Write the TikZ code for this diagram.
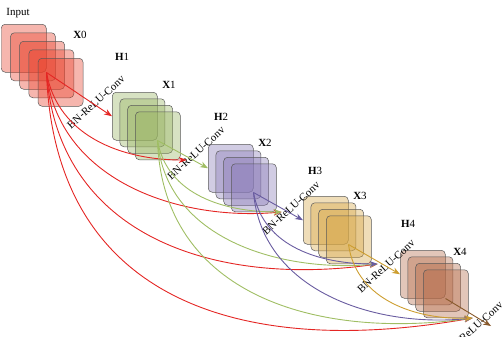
\documentclass[tikz,border=0pt]{standalone}
\usepackage{fontspec}
\setmainfont{Liberation Serif}
\usepackage{xcolor}
\usetikzlibrary{arrows.meta}

\definecolor{redfill}{RGB}{232,64,42}
\definecolor{greenfill}{RGB}{150,178,95}
\definecolor{purplefill}{RGB}{135,120,182}
\definecolor{goldfill}{RGB}{214,165,68}
\definecolor{brownfill}{RGB}{180,105,70}
\definecolor{redline}{RGB}{228,38,36}
\definecolor{greenline}{RGB}{160,190,100}
\definecolor{purpleline}{RGB}{105,92,160}
\definecolor{goldline}{RGB}{205,158,48}
\definecolor{brownline}{RGB}{135,88,42}

\begin{document}
\begin{tikzpicture}[x=1bp,y=1bp]
\tikzstyle{layer} = [rectangle, draw=black!65, line width=0.5bp, rounded corners=4bp,
minimum width=45bp, minimum height=48bp, inner sep=0pt, anchor=north west, fill opacity=0.38]
\tikzstyle{stage} = [font=\fontsize{11}{13}\selectfont, inner sep=0pt]
\tikzstyle{op} = [font=\fontsize{11}{13}\selectfont, inner sep=0pt, rotate=42]
\tikzstyle{line} = [draw, line width=0.9bp, -{Stealth[length=8bp,width=6bp]}]
\tikzstyle{red_line} = [redline]
\tikzstyle{green_line} = [greenline]
\tikzstyle{purple_line} = [purpleline]
\tikzstyle{gold_line} = [goldline]
\tikzstyle{brown_line} = [brownline]

\useasboundingbox (0,0) rectangle (504,336);

% X0
\node [layer, fill=redfill] (x0a) at (1,312) {};
\node [layer, fill=redfill] (x0b) at (10.2,303.5) {};
\node [layer, fill=redfill] (x0c) at (19.4,295) {};
\node [layer, fill=redfill] (x0d) at (28.6,286.5) {};
\node [layer, fill=redfill] (x0e) at (37.8,278) {};
% X1
\node [layer, fill=greenfill] (x1a) at (112,244) {};
\node [layer, fill=greenfill] (x1b) at (119.7,237.5) {};
\node [layer, fill=greenfill] (x1c) at (127.4,231) {};
\node [layer, fill=greenfill] (x1d) at (135.1,224.5) {};
% X2
\node [layer, fill=purplefill] (x2a) at (208,192) {};
\node [layer, fill=purplefill] (x2b) at (215.7,185.5) {};
\node [layer, fill=purplefill] (x2c) at (223.4,179) {};
\node [layer, fill=purplefill] (x2d) at (231.1,172.5) {};
% X3
\node [layer, fill=goldfill] (x3a) at (303,140) {};
\node [layer, fill=goldfill] (x3b) at (310.7,133.5) {};
\node [layer, fill=goldfill] (x3c) at (318.4,127) {};
\node [layer, fill=goldfill] (x3d) at (326.1,120.5) {};
% X4
\node [layer, fill=brownfill] (x4a) at (400,86) {};
\node [layer, fill=brownfill] (x4b) at (407.7,79.5) {};
\node [layer, fill=brownfill] (x4c) at (415.4,73) {};
\node [layer, fill=brownfill] (x4d) at (423.1,66.5) {};

% names
\node [stage] (input) at (18,323) {Input};
\node [stage] (nx0) at (80,301) {\textbf{X}0};
\node [stage] (nh1) at (122,279) {\textbf{H}1};
\node [stage] (nx1) at (169,251) {\textbf{X}1};
\node [stage] (nh2) at (221,219) {\textbf{H}2};
\node [stage] (nx2) at (265,193) {\textbf{X}2};
\node [stage] (nh3) at (315,165) {\textbf{H}3};
\node [stage] (nx3) at (360,140) {\textbf{X}3};
\node [stage] (nh4) at (408,112) {\textbf{H}4};
\node [stage] (nx4) at (460,84) {\textbf{X}4};

% composite functions
\node [op] (op1) at (96,234) {BN-ReLU-Conv};
\node [op] (op2) at (196,183) {BN-ReLU-Conv};
\node [op] (op3) at (291,128) {BN-ReLU-Conv};
\node [op] (op4) at (386,70) {BN-ReLU-Conv};
\node [op] (op5) at (474,8) {BN-ReLU-Conv};

% where the concatenated inputs meet
\coordinate (e2) at ([xshift=6bp]x1d.south east);
\coordinate (e3) at ([xshift=5bp]x2d.south east);
\coordinate (e4) at ([xshift=6bp]x3d.south east);
\coordinate (e5) at ([xshift=4bp]x4d.south east);
\coordinate (out) at (491,10);

\tikzstyle{every path}=[line]
% skip links from X0
\path [red_line] (x0a.south east) to [out=-80, in=180] (e2);
\path [red_line] (x0a.south east) to [out=-84, in=185] (e3);
\path [red_line] (x0a.south east) to [out=-86, in=188, looseness=1.1] (e4);
\path [red_line] (x0a.south east) to [out=-88, in=190, looseness=1.2] (e5);
% skip links from X1
\path [green_line] (x1a.south east) to [out=-80, in=180] (e3);
\path [green_line] (x1a.south east) to [out=-85, in=185] (e4);
\path [green_line] (x1a.south east) to [out=-88, in=188, looseness=1.1] (e5);
% skip links from X2
\path [purple_line] (x2a.south east) to [out=-80, in=180] (e4);
\path [purple_line] (x2a.south east) to [out=-85, in=186] (e5);
% skip link from X3
\path [gold_line] (x3a.south east) to [out=-82, in=182] (e5);

% H1 .. H4 and the output
\path [red_line] (x0a.south east) -- (x1a.west);
\path [green_line] (x1a.south east) -- (x2a.west);
\path [purple_line] (x2a.south east) -- (x3a.west);
\path [gold_line] (x3a.south east) -- (x4a.west);
\path [brown_line] (x4a.south east) -- (out);

\end{tikzpicture}
\end{document}
